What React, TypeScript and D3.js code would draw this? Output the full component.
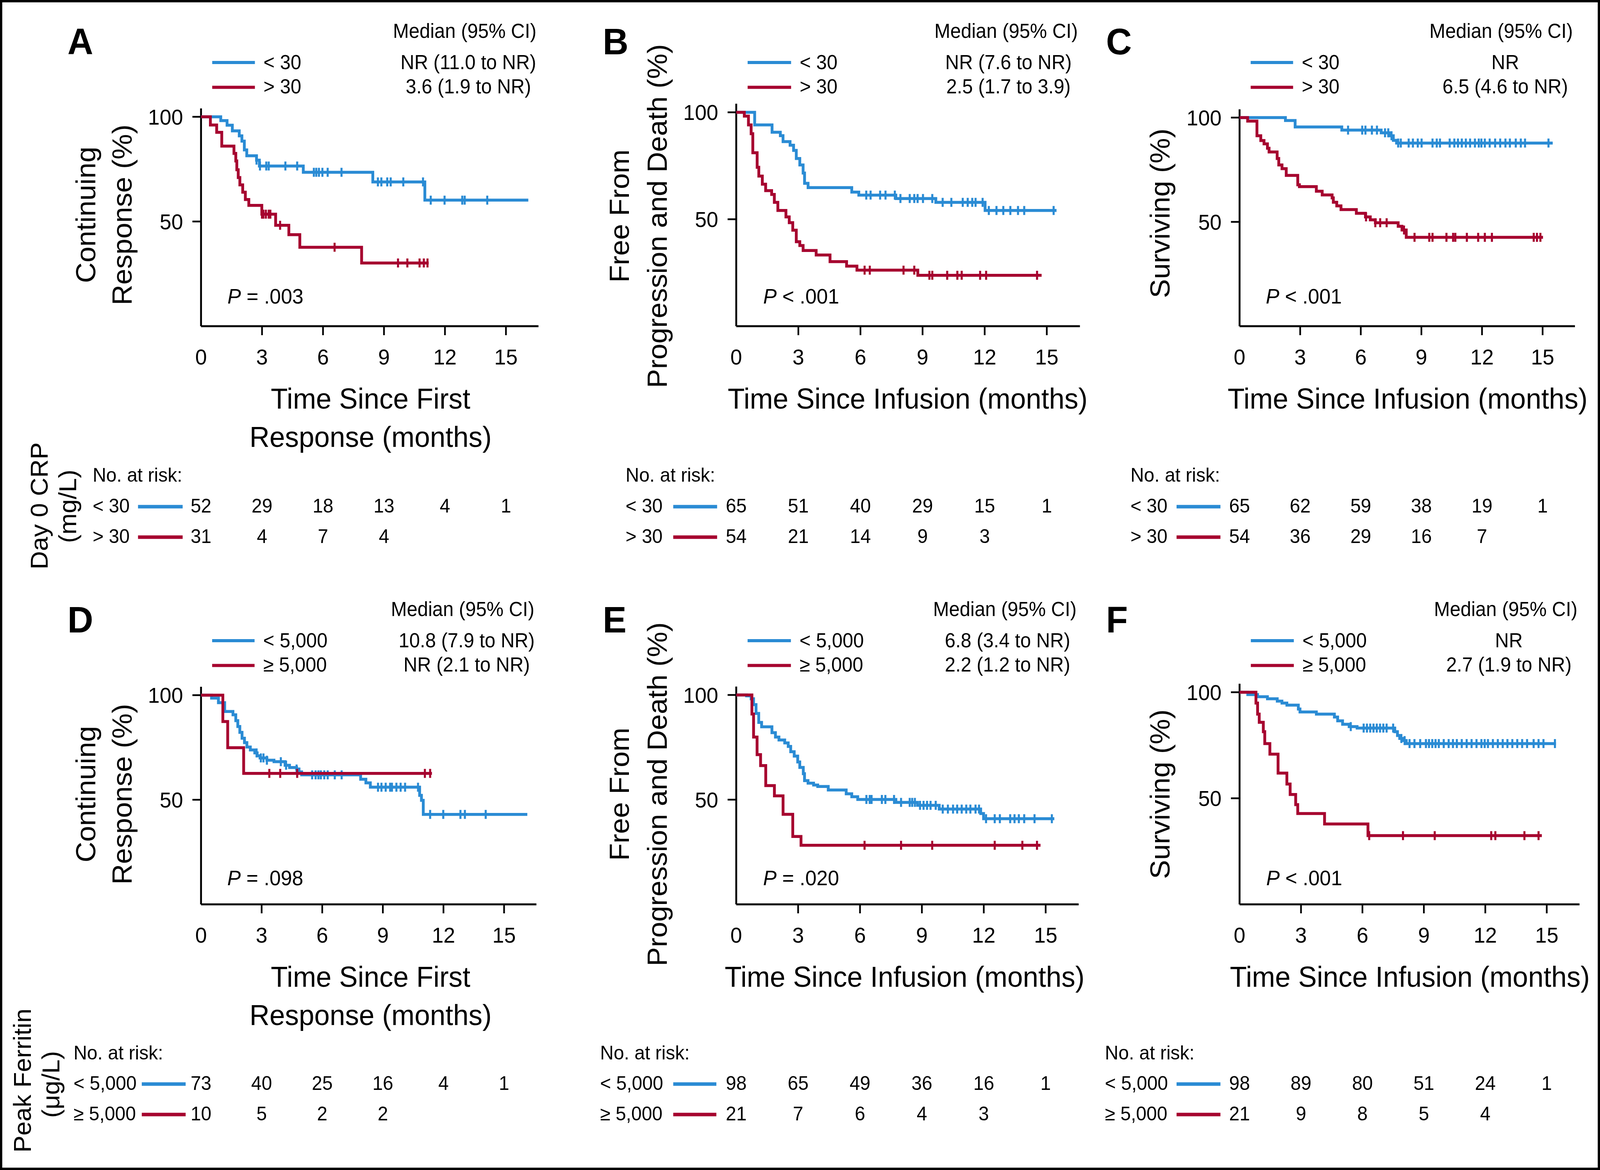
import * as d3 from 'd3';

type Pt = [number, number];

const BLUE = '#2a8bd4';
const RED = '#a6032f';
const FONT = '"Liberation Sans", Arial, Helvetica, sans-serif';

const timeTicks = [0, 3, 6, 9, 12, 15];
const pctTicks = [50, 100];
const crpGroups = ['< 30', '> 30'];
const ferritinGroups = ['< 5,000', '≥ 5,000'];

// A: continuing response by CRP
const aBlue: Pt[] = [[0, 100], [0.97, 98.2], [1.28, 96], [1.54, 93.3], [1.88, 90.9], [2.01, 88.4], [2.13, 84.2], [2.25, 81.4], [2.73, 79.3], [2.87, 76.5], [5.03, 73.5], [8.45, 68.9], [11.01, 60.2]];
const aBlueEnd = 16.1;
const aBlueCens = [2.73, 2.9, 3.21, 3.33, 4.15, 4.73, 5.55, 5.67, 5.8, 5.97, 6.23, 6.91, 8.7, 8.87, 9.16, 9.33, 9.95, 10.92, 11.3, 11.98, 12.85, 12.97, 14.08];
const aRed: Pt[] = [[0, 100], [0.46, 96.1], [0.77, 92.6], [1.02, 86], [1.62, 82.5], [1.71, 78.9], [1.76, 74.7], [1.83, 71], [1.91, 67.5], [2.05, 64], [2.18, 60.5], [2.35, 57.7], [2.99, 53.5], [3.67, 48.2], [4.32, 43.7], [4.86, 37.7], [7.9, 30.2]];
const aRedEnd = 11.2;
const aRedCens = [3.0, 3.07, 3.19, 3.33, 3.41, 3.89, 6.57, 9.69, 10.15, 10.75, 10.96, 11.14];

// B: PFS by CRP
const bBlue: Pt[] = [[0, 100], [0.89, 94.1], [1.73, 90.7], [2.13, 89.1], [2.26, 86.3], [2.6, 84.6], [2.77, 82.2], [2.9, 78.4], [3.07, 75.4], [3.23, 71.6], [3.3, 66.8], [3.47, 64.8], [5.58, 62.7], [5.92, 61.3], [7.71, 59.7], [9.64, 57.9], [12.02, 54.1]];
const bBlueEnd = 15.47;
const bBlueCens = [6.28, 6.49, 6.95, 7.21, 7.66, 7.93, 8.38, 8.6, 8.76, 9.02, 9.47, 9.97, 10.39, 10.94, 11.18, 11.4, 11.56, 11.9, 12.2, 12.57, 12.9, 13.24, 13.61, 13.91, 15.33];
const bRed: Pt[] = [[0, 100], [0.39, 98.2], [0.59, 94.1], [0.72, 90], [0.8, 81.1], [1.01, 74.3], [1.09, 70.2], [1.26, 66.4], [1.42, 63.4], [1.71, 61.6], [1.84, 57.9], [2.01, 54.1], [2.4, 51.1], [2.56, 48.4], [2.73, 44.9], [2.9, 39.5], [3.07, 37.7], [3.23, 35.4], [3.86, 33.3], [4.53, 30.2], [5.33, 28.1], [5.83, 26.2], [8.77, 23.8]];
const bRedEnd = 14.75;
const bRedCens = [6.2, 6.45, 8.08, 8.6, 9.33, 9.47, 10.19, 10.68, 10.89, 11.78, 12.07, 14.53];

// C: OS by CRP
const cBlue: Pt[] = [[0, 100], [2.27, 98.6], [2.75, 95.5], [5.06, 94], [7.01, 92.7], [7.44, 91.3], [7.61, 89.1], [7.77, 87.8]];
const cBlueEnd = 15.5;
const cBlueCens = [5.37, 6.07, 6.23, 6.55, 6.8, 7.2, 7.36, 7.52, 7.85, 7.98, 8.37, 8.58, 8.82, 9.01, 9.55, 9.76, 9.92, 10.4, 10.63, 10.81, 11.0, 11.2, 11.41, 11.65, 11.84, 11.97, 12.14, 12.38, 12.65, 12.9, 13.16, 13.38, 13.67, 13.92, 14.13, 15.29];
const cRed: Pt[] = [[0, 100], [0.4, 98.3], [0.86, 91.3], [1.05, 89], [1.21, 87.4], [1.38, 85.3], [1.46, 83.5], [1.86, 80.4], [1.94, 77.3], [2.1, 75.5], [2.31, 72.3], [2.88, 67.8], [2.96, 66.9], [3.8, 64.7], [4.09, 62.9], [4.58, 61.5], [4.64, 59.4], [4.81, 57.7], [5.02, 55.9], [5.78, 54.1], [6.23, 52.4], [6.47, 51], [6.72, 49.6], [7.85, 47.9], [8.04, 46.1], [8.25, 42.6]];
const cRedEnd = 15.02;
const cRedCens = [6.26, 6.72, 6.96, 7.28, 8.14, 8.66, 9.39, 9.55, 10.24, 10.57, 10.68, 11.25, 11.81, 12.14, 12.49, 14.56, 14.72, 14.89];

// D: continuing response by ferritin
const dBlue: Pt[] = [[0, 100], [0.52, 98.6], [0.86, 96.4], [1.17, 92.2], [1.58, 90.6], [1.72, 87.8], [1.82, 85], [1.92, 82.2], [2.03, 79.4], [2.15, 77.3], [2.27, 75.2], [2.44, 73.8], [2.66, 72.4], [2.78, 71], [2.92, 70], [3.26, 68.9], [3.61, 68.2], [4.16, 66.5], [4.38, 65.4], [4.73, 64.7], [4.85, 63.3], [4.98, 61.9], [7.9, 59.8], [8.16, 58.1], [8.38, 56], [10.82, 52.1], [10.91, 49.7], [11.0, 43]];
const dBlueEnd = 16.15;
const dBlueCens = [2.75, 2.96, 3.09, 3.26, 3.95, 4.21, 4.73, 5.5, 5.67, 5.81, 5.93, 6.1, 6.27, 6.62, 6.96, 8.76, 8.93, 9.14, 9.36, 9.45, 9.67, 9.88, 10.1, 10.74, 11.34, 11.99, 12.84, 13.06, 14.09];
const dRed: Pt[] = [[0, 100], [1.08, 87.4], [1.32, 74.9], [2.11, 62.6]];
const dRedEnd = 11.43;
const dRedCens = [3.38, 3.92, 4.76, 11.08, 11.34];

// E: PFS by ferritin
const eBlue: Pt[] = [[0, 100], [0.5, 99.6], [0.72, 98.2], [0.84, 95.4], [0.96, 91.2], [1.09, 86.9], [1.23, 84.8], [1.73, 82], [1.9, 79.9], [2.07, 78.5], [2.35, 77.1], [2.52, 75.4], [2.64, 72.9], [2.81, 70.8], [2.98, 68], [3.08, 65.4], [3.25, 62.4], [3.31, 59.1], [3.48, 57.9], [3.75, 57], [3.95, 56.3], [4.46, 54.6], [5.33, 52.8], [5.6, 51.4], [5.89, 50.1], [7.74, 48.7], [8.79, 47.3], [9.84, 45.5], [11.85, 43.4], [11.99, 40.9]];
const eBlueEnd = 15.42;
const eBlueCens = [6.31, 6.47, 6.56, 7.06, 7.23, 7.65, 7.99, 8.41, 8.53, 8.66, 8.91, 9.08, 9.25, 9.42, 9.67, 10.01, 10.26, 10.51, 10.71, 10.93, 11.15, 11.35, 11.6, 11.77, 12.11, 12.53, 12.78, 13.28, 13.49, 13.7, 13.96, 14.46, 15.3];
const eRed: Pt[] = [[0, 100], [0.76, 90.9], [0.84, 79.9], [1.01, 71.5], [1.18, 66.3], [1.43, 56.7], [1.85, 51.8], [2.27, 43], [2.74, 32.4], [3.14, 28.2]];
const eRedEnd = 14.75;
const eRedCens = [6.22, 7.99, 9.5, 12.53, 13.87, 14.58];

// F: OS by ferritin
const fBlue: Pt[] = [[0, 100], [0.4, 98.9], [0.88, 97.9], [1.36, 96.9], [1.84, 95.8], [2.07, 94.9], [2.31, 93.9], [2.87, 92.1], [2.95, 90.7], [3.75, 89.7], [4.63, 88.3], [4.79, 86.5], [5.03, 84.9], [5.35, 83.8], [5.74, 83.1], [7.58, 81.4], [7.71, 79.6], [7.82, 78.2], [7.98, 77.2], [8.14, 75.8]];
const fBlueEnd = 15.45;
const fBlueCens = [5.43, 6.06, 6.22, 6.38, 6.54, 6.7, 6.86, 7.02, 7.18, 7.5, 7.9, 8.06, 8.3, 8.54, 8.82, 9.1, 9.25, 9.41, 9.57, 9.73, 9.97, 10.21, 10.42, 10.61, 10.85, 11.09, 11.33, 11.57, 11.81, 11.97, 12.13, 12.37, 12.61, 12.85, 13.08, 13.32, 13.56, 13.8, 14.04, 14.36, 14.6, 14.84, 15.4];
const fRed: Pt[] = [[0, 100], [0.8, 94.9], [0.88, 89.7], [0.96, 85.8], [1.16, 81.4], [1.23, 75.8], [1.48, 70.8], [1.88, 61.9], [2.31, 56.7], [2.47, 51.8], [2.74, 47], [2.84, 42.8], [4.15, 37.9], [6.27, 32.4]];
const fRedEnd = 14.76;
const fRedCens = [6.33, 7.98, 9.53, 12.29, 12.49, 13.91, 14.6];

// numbers at risk
const riskA = [[52, 29, 18, 13, 4, 1], [31, 4, 7, 4]];
const riskB = [[65, 51, 40, 29, 15, 1], [54, 21, 14, 9, 3]];
const riskC = [[65, 62, 59, 38, 19, 1], [54, 36, 29, 16, 7]];
const riskD = [[73, 40, 25, 16, 4, 1], [10, 5, 2, 2]];
const riskE = [[98, 65, 49, 36, 16, 1], [21, 7, 6, 4, 3]];
const riskF = [[98, 89, 80, 51, 24, 1], [21, 9, 8, 5, 4]];

const medA = ['NR (11.0 to NR)', '3.6 (1.9 to NR)'];
const medB = ['NR (7.6 to NR)', '2.5 (1.7 to 3.9)'];
const medC = ['NR', '6.5 (4.6 to NR)'];
const medD = ['10.8 (7.9 to NR)', 'NR (2.1 to NR)'];
const medE = ['6.8 (3.4 to NR)', '2.2 (1.2 to NR)'];
const medF = ['NR', '2.7 (1.9 to NR)'];

const pA = ' = .003', pB = ' < .001', pC = ' < .001', pD = ' = .098', pE = ' = .020', pF = ' < .001';

interface Curve { steps: Pt[]; end: number; cens: number[]; color: string }
interface PanelCfg {
  letter: string;
  x0: number; x15: number; axisY: number; y100: number;
  yTitle: string[]; yTitleX: number[]; yTitleY: number;
  xTitle: string[]; xTitleX: number;
  curves: Curve[];
  groups: string[]; medians: string[]; p: string;
  risk: number[][]; riskLeft: number; riskBar: [number, number];
  dy: number; // row offset
}

const rowTop = 0;
const rowBot = 1480;

const panels: PanelCfg[] = [
  {
    letter: 'A', x0: 536, x15: 1349, axisY: 835, y100: 299,
    yTitle: ['Continuing', 'Response (%)'], yTitleX: [254, 351], yTitleY: 550,
    xTitle: ['Time Since First', 'Response (months)'], xTitleX: 988,
    curves: [
      { steps: aBlue, end: aBlueEnd, cens: aBlueCens, color: BLUE },
      { steps: aRed, end: aRedEnd, cens: aRedCens, color: RED },
    ],
    groups: crpGroups, medians: medA, p: pA, risk: riskA, riskLeft: 247, riskBar: [368, 487], dy: rowTop,
  },
  {
    letter: 'B', x0: 1963, x15: 2791, axisY: 835, y100: 287.5,
    yTitle: ['Free From', 'Progression and Death (%)'], yTitleX: [1677, 1778], yTitleY: 553,
    xTitle: ['Time Since Infusion (months)'], xTitleX: 2420,
    curves: [
      { steps: bBlue, end: bBlueEnd, cens: bBlueCens, color: BLUE },
      { steps: bRed, end: bRedEnd, cens: bRedCens, color: RED },
    ],
    groups: crpGroups, medians: medB, p: pB, risk: riskB, riskLeft: 1668, riskBar: [1795, 1912], dy: rowTop,
  },
  {
    letter: 'C', x0: 3305, x15: 4113, axisY: 835, y100: 301,
    yTitle: ['Surviving (%)'], yTitleX: [3118], yTitleY: 546,
    xTitle: ['Time Since Infusion (months)'], xTitleX: 3753,
    curves: [
      { steps: cBlue, end: cBlueEnd, cens: cBlueCens, color: BLUE },
      { steps: cRed, end: cRedEnd, cens: cRedCens, color: RED },
    ],
    groups: crpGroups, medians: medC, p: pC, risk: riskC, riskLeft: 3014, riskBar: [3137, 3254], dy: rowTop,
  },
  {
    letter: 'D', x0: 536, x15: 1344, axisY: 2315, y100: 1779.5,
    yTitle: ['Continuing', 'Response (%)'], yTitleX: [254, 351], yTitleY: 2033,
    xTitle: ['Time Since First', 'Response (months)'], xTitleX: 988,
    curves: [
      { steps: dBlue, end: dBlueEnd, cens: dBlueCens, color: BLUE },
      { steps: dRed, end: dRedEnd, cens: dRedCens, color: RED },
    ],
    groups: ferritinGroups, medians: medD, p: pD, risk: riskD, riskLeft: 196, riskBar: [378, 495], dy: rowBot,
  },
  {
    letter: 'E', x0: 1963, x15: 2788, axisY: 2315, y100: 1779,
    yTitle: ['Free From', 'Progression and Death (%)'], yTitleX: [1677, 1778], yTitleY: 2033,
    xTitle: ['Time Since Infusion (months)'], xTitleX: 2412,
    curves: [
      { steps: eBlue, end: eBlueEnd, cens: eBlueCens, color: BLUE },
      { steps: eRed, end: eRedEnd, cens: eRedCens, color: RED },
    ],
    groups: ferritinGroups, medians: medE, p: pE, risk: riskE, riskLeft: 1600, riskBar: [1795, 1910], dy: rowBot,
  },
  {
    letter: 'F', x0: 3305, x15: 4124, axisY: 2315, y100: 1772,
    yTitle: ['Surviving (%)'], yTitleX: [3118], yTitleY: 2033,
    xTitle: ['Time Since Infusion (months)'], xTitleX: 3759,
    curves: [
      { steps: fBlue, end: fBlueEnd, cens: fBlueCens, color: BLUE },
      { steps: fRed, end: fRedEnd, cens: fRedCens, color: RED },
    ],
    groups: ferritinGroups, medians: medF, p: pF, risk: riskF, riskLeft: 2946, riskBar: [3137, 3254], dy: rowBot,
  },
];

function stepValue(steps: Pt[], t: number) {
  let v = steps[0][1];
  for (const s of steps) if (s[0] <= t) v = s[1];
  return v;
}

function Panel({ cfg }: { cfg: PanelCfg }) {
  const x = d3.scaleLinear().domain([0, 15]).range([cfg.x0, cfg.x15]);
  const y = d3.scaleLinear().domain([0, 100]).range([cfg.axisY, cfg.y100]);
  const line = d3.line<Pt>().x((d) => x(d[0])).y((d) => y(d[1])).curve(d3.curveStepAfter);
  const dy = cfg.dy;
  const xRight = x(16.6);
  const yTop = y(104);
  const legX0 = x(0.55), legX1 = x(2.65);
  const legendY = [160 + dy, 223.5 + dy];
  const textBase = [177 + dy, 239 + dy];
  const medX = x(13.15);
  const headRight = x(16.5);
  const riskBase = cfg.dy === 0 ? [1312, 1390] : [2790, 2868];
  const riskHead = cfg.dy === 0 ? 1233 : 2712;

  return (
    <g>
      <text x={cfg.x0 - 356} y={139 + dy} fontSize={95} fontWeight="bold" fontFamily={FONT}>{cfg.letter}</text>
      <text x={headRight} y={97 + dy} fontSize={51} textAnchor="end" fontFamily={FONT}>Median (95% CI)</text>
      {cfg.groups.map((g, i) => (
        <g key={g}>
          <line x1={legX0} x2={legX1} y1={legendY[i]} y2={legendY[i]} stroke={i === 0 ? BLUE : RED} strokeWidth={8} />
          <text x={legX1 + 23} y={textBase[i]} fontSize={51} fontFamily={FONT}>{g}</text>
          <text x={medX} y={textBase[i]} fontSize={51} textAnchor="middle" fontFamily={FONT}>{cfg.medians[i]}</text>
        </g>
      ))}

      {/* axes */}
      <line x1={cfg.x0} x2={xRight} y1={cfg.axisY} y2={cfg.axisY} stroke="#000" strokeWidth={5} />
      <line x1={cfg.x0} x2={cfg.x0} y1={yTop} y2={cfg.axisY} stroke="#000" strokeWidth={5} />
      {timeTicks.map((t) => (
        <g key={t}>
          {t > 0 && <line x1={x(t)} x2={x(t)} y1={cfg.axisY} y2={cfg.axisY + 23} stroke="#000" strokeWidth={4.5} />}
          <text x={x(t)} y={cfg.axisY + 98} fontSize={56} textAnchor="middle" fontFamily={FONT}>{t}</text>
        </g>
      ))}
      {pctTicks.map((v) => (
        <g key={v}>
          <line x1={cfg.x0 - 23} x2={cfg.x0} y1={y(v)} y2={y(v)} stroke="#000" strokeWidth={4.5} />
          <text x={cfg.x0 - 48} y={y(v) + 20} fontSize={56} textAnchor="end" fontFamily={FONT}>{v}</text>
        </g>
      ))}

      {/* titles */}
      {cfg.yTitle.map((s, i) => (
        <text key={s} transform={`translate(${cfg.yTitleX[i]},${cfg.yTitleY}) rotate(-90)`} fontSize={73} textAnchor="middle" fontFamily={FONT}>{s}</text>
      ))}
      {cfg.xTitle.map((s, i) => (
        <text key={s} x={cfg.xTitleX} y={1046 + dy + i * 98} fontSize={74} textAnchor="middle" fontFamily={FONT}>{s}</text>
      ))}
      <text x={x(1.3)} y={777 + dy + (dy ? 9 : 0)} fontSize={54} fontFamily={FONT}>
        <tspan fontStyle="italic">P</tspan>{cfg.p}
      </text>

      {/* curves */}
      {cfg.curves.map((c, i) => {
        const pts: Pt[] = [...c.steps, [c.end, c.steps[c.steps.length - 1][1]]];
        return (
          <g key={i}>
            <path d={line(pts) ?? ''} fill="none" stroke={c.color} strokeWidth={7.5} />
            {c.cens.map((t, j) => {
              const cy = y(stepValue(c.steps, t));
              return <line key={j} x1={x(t)} x2={x(t)} y1={cy - 11.5} y2={cy + 11.5} stroke={c.color} strokeWidth={5.5} />;
            })}
          </g>
        );
      })}

      {/* numbers at risk */}
      <text x={cfg.riskLeft} y={riskHead} fontSize={50} fontFamily={FONT}>No. at risk:</text>
      {cfg.risk.map((row, i) => (
        <g key={i}>
          <text x={cfg.riskLeft} y={riskBase[i]} fontSize={50} fontFamily={FONT}>{cfg.groups[i]}</text>
          <line x1={cfg.riskBar[0]} x2={cfg.riskBar[1]} y1={riskBase[i] - 15} y2={riskBase[i] - 15} stroke={i === 0 ? BLUE : RED} strokeWidth={9} />
          {row.map((n, j) => (
            <text key={j} x={x(timeTicks[j])} y={riskBase[i]} fontSize={50} textAnchor="middle" fontFamily={FONT}>{n}</text>
          ))}
        </g>
      ))}
    </g>
  );
}

export default function App() {
  return (
    <svg
      viewBox="0 0 4266 2995"
      preserveAspectRatio="none"
      style={{ position: 'fixed', left: 0, top: 0, width: '100vw', height: '100vh', background: '#fff', display: 'block' }}
    >
      <rect x={0} y={0} width={4266} height={2995} fill="#fff" />
      {panels.map((p) => (
        <Panel key={p.letter} cfg={p} />
      ))}
      <text transform="translate(127,1295) rotate(-90)" fontSize={65} textAnchor="middle" fontFamily={FONT}>Day 0 CRP</text>
      <text transform="translate(203,1296) rotate(-90)" fontSize={65} textAnchor="middle" fontFamily={FONT}>(mg/L)</text>
      <text transform="translate(82,2766) rotate(-90)" fontSize={65} textAnchor="middle" fontFamily={FONT}>Peak Ferritin</text>
      <text transform="translate(158,2776) rotate(-90)" fontSize={65} textAnchor="middle" fontFamily={FONT}>(μg/L)</text>
      <rect x={3} y={3} width={4260} height={2989} fill="none" stroke="#000" strokeWidth={6} />
    </svg>
  );
}
